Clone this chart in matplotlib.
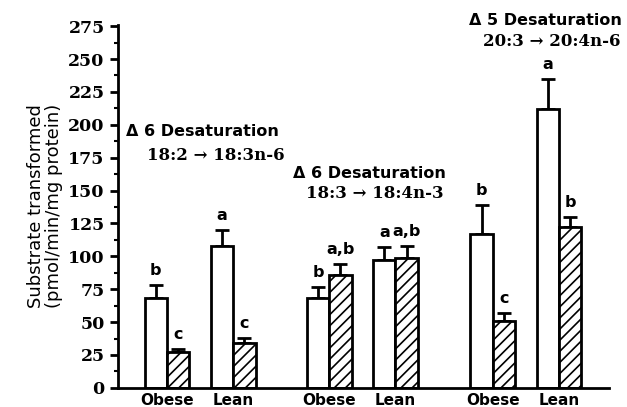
import matplotlib
matplotlib.use("Agg")
import matplotlib.pyplot as plt
import numpy as np

# data
groups = ["d6_linoleic", "d6_linolenic", "d5"]
diet = ["Obese", "Lean"]
# white (open) bars and hatched bars, order: obese, lean per group
open_vals = [68, 108, 68, 97, 117, 212]
open_err = [10, 12, 9, 10, 22, 23]
hatch_vals = [27, 34, 86, 99, 51, 122]
hatch_err = [2.5, 4, 8, 9, 6, 8]
open_letters = ["b", "a", "b", "a", "b", "a"]
hatch_letters = ["c", "c", "a,b", "a,b", "c", "b"]
titles = ["\u0394 6 Desaturation", "\u0394 6 Desaturation", "\u0394 5 Desaturation"]
subtitles = ["18:2 \u2192 18:3n-6", "18:3 \u2192 18:4n-3", "20:3 \u2192 20:4n-6"]

plt.rcParams["hatch.linewidth"] = 1.2
fig = plt.figure(figsize=(6.27, 4.07), dpi=100)
ax = fig.add_axes([0.188, 0.047, 0.783, 0.892])

# pair centers, obese then lean in each group
starts = [0, 7.27, 14.6]
centers = []
for s in starts:
    centers.append(s)
    centers.append(s + 2.97)
centers = np.array(centers)

ax.bar(centers - 0.5, open_vals, width=1.0, color="white", edgecolor="black", linewidth=2, zorder=2)
ax.bar(centers + 0.5, hatch_vals, width=1.0, color="white", edgecolor="black", linewidth=2,
       hatch="///", zorder=2)

ax.errorbar(centers - 0.5, open_vals, yerr=[np.zeros(6), open_err], fmt="none", ecolor="black",
            elinewidth=2, capsize=5, capthick=2, zorder=1)
ax.errorbar(centers + 0.5, hatch_vals, yerr=[np.zeros(6), hatch_err], fmt="none", ecolor="black",
            elinewidth=2, capsize=5, capthick=2, zorder=1)

# significance letters above the error bars
for i in range(6):
    ax.annotate(open_letters[i], (centers[i] - 0.5, open_vals[i] + open_err[i]), xytext=(0, 5),
                textcoords="offset points", ha="center", va="bottom", fontsize=11.5, fontweight="bold")
    ax.annotate(hatch_letters[i], (centers[i] + 0.5, hatch_vals[i] + hatch_err[i]), xytext=(0, 5),
                textcoords="offset points", ha="center", va="bottom", fontsize=11.5, fontweight="bold")

# group labels
title_pos = [(-1.84, 195), (5.65, 163), (13.55, 279)]
sub_pos = [(-0.9, 177), (6.23, 148), (14.17, 263)]
for i in range(3):
    ax.text(title_pos[i][0], title_pos[i][1], titles[i], ha="left", va="center", fontsize=11.5,
            fontweight="bold", clip_on=False)
    ax.text(sub_pos[i][0], sub_pos[i][1], subtitles[i], ha="left", va="center", fontsize=12,
            fontweight="bold", family="DejaVu Serif", clip_on=False)

ax.set_xlim(-2.2, 19.8)
ax.set_ylim(0, 276)
ax.set_yticks(np.arange(0, 276, 25))
ax.set_yticks(np.arange(12.5, 276, 25), minor=True)
ax.set_yticklabels([str(v) for v in range(0, 276, 25)], family="DejaVu Serif", fontweight="bold",
                   fontsize=12.5)
ax.tick_params(axis="y", which="major", direction="out", length=6, width=2)
ax.tick_params(axis="y", which="minor", direction="out", length=3, width=1.5)
ax.set_xticks(centers)
ax.set_xticklabels(diet * 3, fontsize=11, fontweight="bold")
ax.tick_params(axis="x", length=0, pad=4)

for side in ["top", "right"]:
    ax.spines[side].set_visible(False)
ax.spines["left"].set_linewidth(2)
ax.spines["bottom"].set_linewidth(2)

ax.set_ylabel("Substrate transformed\n(pmol/min/mg protein)", fontsize=13, linespacing=1.0, labelpad=4)

fig.savefig("out.png", dpi=100)
